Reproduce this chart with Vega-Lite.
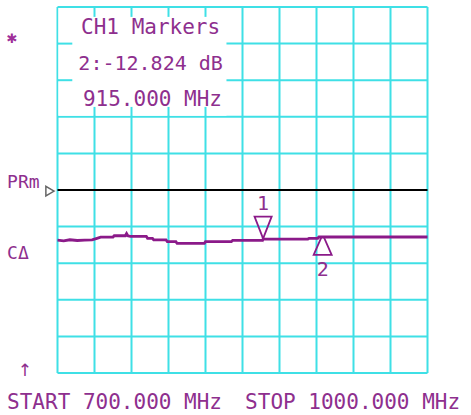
{
  "$schema": "https://vega.github.io/schema/vega-lite/v6.json",
  "width": 370,
  "height": 366,
  "autosize": {"type": "none"},
  "padding": {"left": 57.5, "top": 7, "right": 43.5, "bottom": 42},
  "background": "white",
  "config": {"view": {"stroke": null}, "text": {"font": "DejaVu Sans Mono", "fill": "#8e2f8e", "baseline": "middle"}},
  "encoding": {
    "x": {"type": "quantitative", "scale": {"domain": [700, 1000], "nice": false, "zero": false}, "axis": null},
    "y": {"type": "quantitative", "scale": {"domain": [-50, 50], "nice": false, "zero": false}, "axis": null}
  },
  "layer": [
    {
      "data": {"values": [{"f": 700}, {"f": 730}, {"f": 760}, {"f": 790}, {"f": 820}, {"f": 850}, {"f": 880}, {"f": 910}, {"f": 940}, {"f": 970}, {"f": 1000}]},
      "mark": {"type": "rule", "color": "#3fe0e6", "strokeWidth": 2},
      "encoding": {"x": {"field": "f", "type": "quantitative"}, "y": {"datum": -50}, "y2": {"datum": 50}}
    },
    {
      "data": {"values": [{"d": -50}, {"d": -40}, {"d": -30}, {"d": -20}, {"d": -10}, {"d": 0}, {"d": 10}, {"d": 20}, {"d": 30}, {"d": 40}, {"d": 50}]},
      "mark": {"type": "rule", "color": "#3fe0e6", "strokeWidth": 2},
      "encoding": {"y": {"field": "d", "type": "quantitative"}, "x": {"datum": 700}, "x2": {"datum": 1000}}
    },
    {
      "data": {"values": [{}]},
      "mark": {"type": "rect", "fill": "white"},
      "encoding": {"x": {"datum": 700.7}, "x2": {"datum": 837}, "y": {"datum": 49.7}, "y2": {"datum": 20.3}}
    },
    {
      "data": {"values": [{"f": 730}, {"f": 760}, {"f": 790}, {"f": 820}]},
      "mark": {"type": "rule", "color": "#3fe0e6", "strokeWidth": 2},
      "encoding": {"x": {"field": "f", "type": "quantitative"}, "y": {"datum": 50}, "y2": {"datum": 47.3}}
    },
    {
      "data": {"values": [{"f": 730}, {"f": 760}, {"f": 790}, {"f": 820}]},
      "mark": {"type": "rule", "color": "#3fe0e6", "strokeWidth": 2},
      "encoding": {"x": {"field": "f", "type": "quantitative"}, "y": {"datum": 20}, "y2": {"datum": 22.7}}
    },
    {
      "data": {"values": [{"d": 40}, {"d": 30}]},
      "mark": {"type": "rule", "color": "#3fe0e6", "strokeWidth": 2},
      "encoding": {"y": {"field": "d", "type": "quantitative"}, "x": {"datum": 700}, "x2": {"datum": 712}}
    },
    {
      "data": {"values": [{}]},
      "mark": {"type": "rule", "color": "black", "strokeWidth": 2},
      "encoding": {"x": {"datum": 700}, "x2": {"datum": 1000}, "y": {"datum": 0}}
    },
    {
      "data": {"values": [
        {"f": 700, "db": -13.7}, {"f": 705, "db": -13.9}, {"f": 710, "db": -13.6}, {"f": 716, "db": -13.8},
        {"f": 722, "db": -13.7}, {"f": 728, "db": -13.6}, {"f": 732, "db": -13.2}, {"f": 735, "db": -12.9},
        {"f": 745, "db": -12.85}, {"f": 746, "db": -12.5}, {"f": 755, "db": -12.5}, {"f": 756, "db": -11.9},
        {"f": 757, "db": -12.5}, {"f": 759, "db": -12.65}, {"f": 772, "db": -12.65}, {"f": 773, "db": -13.2},
        {"f": 777, "db": -13.2}, {"f": 778, "db": -13.65}, {"f": 788, "db": -13.65}, {"f": 789, "db": -14.1},
        {"f": 796, "db": -14.1}, {"f": 797, "db": -14.6}, {"f": 819, "db": -14.6}, {"f": 820, "db": -14.1},
        {"f": 841, "db": -14.1}, {"f": 842, "db": -13.75}, {"f": 866, "db": -13.75}, {"f": 867, "db": -13.4},
        {"f": 903, "db": -13.4}, {"f": 904, "db": -13.2}, {"f": 911, "db": -13.2}, {"f": 912, "db": -12.84},
        {"f": 1000, "db": -12.84}
      ]},
      "mark": {"type": "line", "color": "#8b1a89", "strokeWidth": 2.8},
      "encoding": {"x": {"field": "f", "type": "quantitative"}, "y": {"field": "db", "type": "quantitative"}}
    },
    {
      "data": {"values": [{"marker": "1", "f": 866.7, "db": -13.5}]},
      "layer": [
        {"mark": {"type": "point", "shape": "M-0.45,-1.2L0.45,-1.2L0.06,-0.2L0,0L-0.06,-0.2Z", "size": 1444, "filled": false, "stroke": "#8b1a89", "strokeWidth": 1.8, "opacity": 1},
         "encoding": {"x": {"field": "f", "type": "quantitative"}, "y": {"field": "db", "type": "quantitative"}}},
        {"mark": {"type": "text", "dy": -35, "fontSize": 20},
         "encoding": {"x": {"field": "f", "type": "quantitative"}, "y": {"field": "db", "type": "quantitative"}, "text": {"field": "marker"}}}
      ]
    },
    {
      "data": {"values": [{"marker": "2", "f": 915, "db": -12.824}]},
      "layer": [
        {"mark": {"type": "point", "shape": "M-0.06,0L0.06,0L0.5,1L-0.5,1Z", "size": 1296, "filled": false, "stroke": "#8b1a89", "strokeWidth": 1.8, "opacity": 1},
         "encoding": {"x": {"field": "f", "type": "quantitative"}, "y": {"field": "db", "type": "quantitative"}}},
        {"mark": {"type": "text", "dy": 33, "fontSize": 20},
         "encoding": {"x": {"field": "f", "type": "quantitative"}, "y": {"field": "db", "type": "quantitative"}, "text": {"field": "marker"}}}
      ]
    },
    {
      "data": {"values": [{}]},
      "mark": {"type": "point", "shape": "triangle-right", "size": 90, "filled": true, "fill": "white", "stroke": "#666", "strokeWidth": 1.5, "opacity": 1},
      "encoding": {"x": {"datum": 693.9}, "y": {"datum": -0.3}}
    },
    {
      "data": {"values": [{}]},
      "mark": {"type": "text", "text": "✱", "fontSize": 17, "fill": "#a0309a"},
      "encoding": {"x": {"datum": 663.1}, "y": {"datum": 41.5}}
    },
    {
      "data": {"values": [{}]},
      "mark": {"type": "text", "text": "CH1 Markers", "fontSize": 21, "align": "center"},
      "encoding": {"x": {"datum": 775.5}, "y": {"datum": 44.3}}
    },
    {
      "data": {"values": [{}]},
      "mark": {"type": "text", "text": "2:-12.824 dB", "fontSize": 20, "align": "center"},
      "encoding": {"x": {"datum": 775.5}, "y": {"datum": 34.4}}
    },
    {
      "data": {"values": [{}]},
      "mark": {"type": "text", "text": "915.000 MHz", "fontSize": 21, "align": "center"},
      "encoding": {"x": {"datum": 777}, "y": {"datum": 24.6}}
    },
    {
      "data": {"values": [{}]},
      "mark": {"type": "text", "text": "PRm", "fontSize": 18, "align": "left"},
      "encoding": {"x": {"datum": 659.1}, "y": {"datum": 1.9}}
    },
    {
      "data": {"values": [{}]},
      "mark": {"type": "text", "text": "CΔ", "fontSize": 18, "align": "left"},
      "encoding": {"x": {"datum": 659.1}, "y": {"datum": -17.6}}
    },
    {
      "data": {"values": [{}]},
      "mark": {"type": "text", "text": "↑", "font": "DejaVu Sans", "fontSize": 17, "align": "center"},
      "encoding": {"x": {"datum": 673.6}, "y": {"datum": -49.5}}
    },
    {
      "data": {"values": [{}]},
      "mark": {"type": "text", "text": "START 700.000 MHz", "fontSize": 21, "align": "left"},
      "encoding": {"x": {"datum": 659.1}, "y": {"datum": -58.2}}
    },
    {
      "data": {"values": [{}]},
      "mark": {"type": "text", "text": "STOP 1000.000 MHz", "fontSize": 21, "align": "right"},
      "encoding": {"x": {"datum": 1026.4}, "y": {"datum": -58.2}}
    }
  ]
}
